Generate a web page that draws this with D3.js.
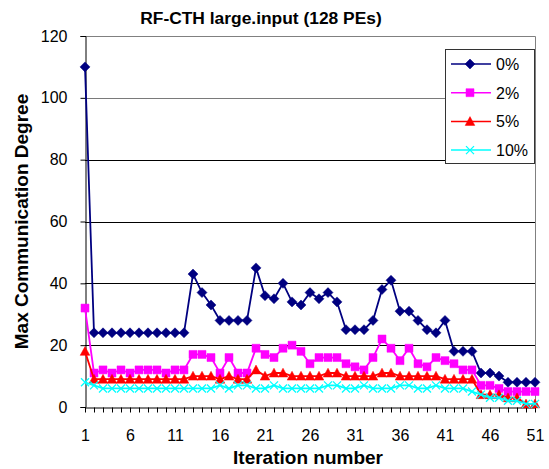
<html>
  <head>
    <style>
      body { margin: 0; background: #fff; }
      svg  { display: block; font-family: Arial, "Liberation Sans", sans-serif; }
    </style>
  </head>
  <body>
    <svg width="549" height="469"></svg>
    <script src="https://d3js.org/d3.v7.min.js"></script>
    <script>
      // iteration numbers on the x axis
      var iterations = d3.range(1, 52);
      var xTickLabels = [1, 6, 11, 16, 21, 26, 31, 36, 41, 46, 51];
      var yTicks = [0, 20, 40, 60, 80, 100, 120];

      var seriesNames = ["0%", "2%", "5%", "10%"];
      var deg0  = [110,24,24,24,24,24,24,24,24,24,24,24,43,37,33,28,28,28,28,45,36,35,40,34,33,37,35,37,34,25,25,25,28,38,41,31,31,28,25,24,28,18,18,18,11,11,10,8,8,8,8];
      var deg2  = [32,11,12,11,12,11,12,12,12,11,12,12,17,17,16,11,16,11,11,19,17,16,19,20,18,14,16,16,16,14,13,12,16,22,19,15,19,14,13,16,15,14,12,12,7,7,6,5,5,5,5];
      var deg5  = [18,9,9,9,9,9,9,9,9,9,9,9,10,10,10,9,10,9,9,12,10,11,11,10,10,10,10,11,11,10,10,10,10,11,11,10,10,10,10,10,9,9,9,9,4,4,4,3,3,1,1];
      var deg10 = [8,7,6,6,6,6,6,6,6,6,6,6,6,6,6,7,6,7,7,6,6,7,6,6,6,6,6,7,7,6,6,7,6,6,6,7,7,6,6,7,6,6,6,5,4,3,3,2,2,1,1];

      var colors = ["#000080", "#ff00ff", "#ff0000", "#00ffff"];
      var markers = ["diamond", "square", "triangle", "cross"];

      var svg = d3.select("svg"),
          plotLeft = 85, plotRight = 535, plotTop = 36, plotBottom = 407;

      var x = d3.scaleLinear().domain([1, 51]).range([plotLeft, plotRight]);
      var y = d3.scaleLinear().domain([0, 120]).range([plotBottom, plotTop]);

      // title
      svg.append("text")
          .attr("x", 261).attr("y", 24)
          .attr("text-anchor", "middle")
          .attr("font-size", 17.4).attr("font-weight", "bold")
          .text("RF-CTH large.input (128 PEs)");

      // grid lines
      svg.append("g").selectAll("line")
          .data(yTicks.filter(function(d) { return d > 0 && d < 120; }))
          .enter().append("line")
          .attr("x1", plotLeft).attr("x2", plotRight)
          .attr("y1", function(d) { return Math.round(y(d)) + 0.5; })
          .attr("y2", function(d) { return Math.round(y(d)) + 0.5; })
          .attr("stroke", function(d) { return d === 100 ? "#7a7a7a" : "#000"; })
          .attr("stroke-width", 1);

      // plot border (top / right)
      svg.append("path")
          .attr("d", "M" + plotLeft + "," + (y(120) + 0.5) + "H" + (plotRight + 0.5) + "V" + plotBottom)
          .attr("fill", "none").attr("stroke", "#808080");

      // y axis
      var yAxis = svg.append("g")
          .attr("transform", "translate(" + (plotLeft + 0.5) + ",0)")
          .call(d3.axisLeft(y).tickValues(yTicks).tickSize(5).tickPadding(13));
      yAxis.select(".domain").attr("stroke", "#000");
      yAxis.selectAll("text").attr("font-size", 16).attr("font-family", "Arial, 'Liberation Sans', sans-serif").attr("fill", "#000");

      // x axis
      var xAxis = svg.append("g")
          .attr("transform", "translate(0," + (plotBottom + 0.5) + ")")
          .call(d3.axisBottom(x).tickValues(iterations).tickSize(5).tickSizeOuter(0)
            .tickFormat(function(d) { return xTickLabels.indexOf(d) >= 0 ? d : ""; }));
      xAxis.select(".domain").attr("stroke", "#000");
      xAxis.selectAll("text").attr("font-size", 16).attr("dy", "1.6em")
          .attr("font-family", "Arial, 'Liberation Sans', sans-serif").attr("fill", "#000");
      svg.selectAll(".tick line").attr("stroke", "#000");

      // axis titles
      svg.append("text")
          .attr("x", (plotLeft + plotRight) / 2 - 2).attr("y", 464)
          .attr("text-anchor", "middle")
          .attr("font-size", 19).attr("font-weight", "bold")
          .text("Iteration number");

      svg.append("text")
          .attr("transform", "translate(28," + (plotTop + plotBottom) / 2 + ") rotate(-90)")
          .attr("text-anchor", "middle")
          .attr("font-size", 19).attr("font-weight", "bold")
          .text("Max Communication Degree");

      function markerPath(type) {
        if (type === "diamond")  return "M0,-5L5,0L0,5L-5,0Z";
        if (type === "square")   return "M-4,-4H4V4H-4Z";
        if (type === "triangle") return "M0,-4.8L4.8,4H-4.8Z";
        return "M-4,-4L4,4M4,-4L-4,4";
      }

      function drawMarker(g, type, color) {
        var p = g.append("path").attr("d", markerPath(type));
        if (type === "cross") p.attr("fill", "none").attr("stroke", color).attr("stroke-width", 1.3);
        else p.attr("fill", color).attr("stroke", color).attr("stroke-width", 0.5);
      }

      var allSeries = [deg0, deg2, deg5, deg10];
      var line = d3.line()
          .x(function(d, i) { return x(iterations[i]); })
          .y(function(d) { return y(d); });

      allSeries.forEach(function(values, s) {
        var g = svg.append("g");
        g.append("path")
            .attr("d", line(values))
            .attr("fill", "none")
            .attr("stroke", colors[s])
            .attr("stroke-width", 1.8);
        values.forEach(function(v, i) {
          var m = g.append("g")
              .attr("transform", "translate(" + x(iterations[i]) + "," + y(v) + ")");
          drawMarker(m, markers[s], colors[s]);
        });
      });

      // legend
      var legend = svg.append("g");
      legend.append("rect")
          .attr("x", 445.5).attr("y", 49.5).attr("width", 89).attr("height", 114)
          .attr("fill", "#fff").attr("stroke", "#333");
      seriesNames.forEach(function(name, s) {
        var ly = 64 + s * 28.7;
        legend.append("line")
            .attr("x1", 451).attr("x2", 491).attr("y1", ly).attr("y2", ly)
            .attr("stroke", colors[s]).attr("stroke-width", 1.5);
        drawMarker(legend.append("g").attr("transform", "translate(470," + ly + ")"), markers[s], colors[s]);
        legend.append("text")
            .attr("x", 496).attr("y", ly + 6)
            .attr("font-size", 16)
            .text(name);
      });
    </script>
  </body>
</html>
